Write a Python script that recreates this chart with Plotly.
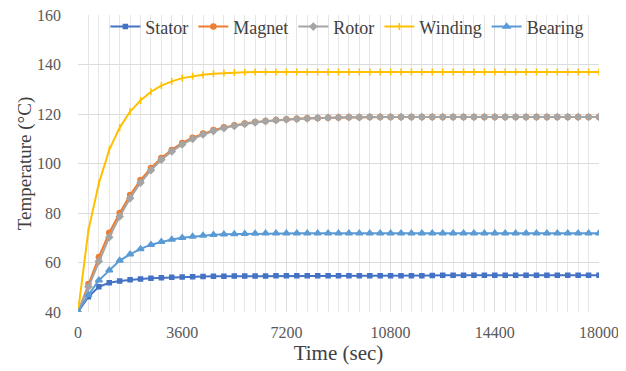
import plotly.graph_objects as go

time_s = list(range(0, 18001, 360))

stator = [40, 46.2, 50.2, 51.8, 52.5, 53.0, 53.3, 53.6, 53.8, 54.0, 54.1, 54.2, 54.3, 54.4, 54.4,
          54.5, 54.5, 54.5, 54.5, 54.6, 54.6, 54.6, 54.6, 54.6, 54.6, 54.6, 54.6, 54.6, 54.6, 54.6,
          54.6, 54.6, 54.6, 54.6, 54.7, 54.8, 54.8, 54.8, 54.8, 54.8, 54.8, 54.8, 54.8, 54.8, 54.8,
          54.8, 54.8, 54.8, 54.8, 54.8, 54.8]
magnet = [40, 51.3, 62.2, 72.0, 80.0, 87.3, 93.3, 98.2, 102.2, 105.5, 108.3, 110.4, 112.1, 113.5, 114.6,
          115.5, 116.2, 116.8, 117.2, 117.6, 117.9, 118.1, 118.3, 118.4, 118.5, 118.6, 118.7, 118.7, 118.8, 118.8,
          118.8, 118.8, 118.8, 118.8, 118.8, 118.8, 118.8, 118.8, 118.8, 118.8, 118.8, 118.8, 118.8, 118.8, 118.8,
          118.8, 118.8, 118.8, 118.8, 118.8, 118.8]
rotor = [40, 50.2, 60.5, 70.2, 78.6, 86.0, 92.2, 97.3, 101.5, 104.9, 107.7, 109.9, 111.7, 113.1, 114.3,
         115.2, 116.0, 116.6, 117.1, 117.5, 117.8, 118.0, 118.2, 118.4, 118.5, 118.6, 118.7, 118.7, 118.8, 118.8,
         118.8, 118.8, 118.8, 118.8, 118.8, 118.8, 118.8, 118.8, 118.8, 118.8, 118.8, 118.8, 118.8, 118.8, 118.8,
         118.8, 118.8, 118.8, 118.8, 118.8, 118.8]
winding = [40, 73.0, 92.0, 105.5, 114.5, 121.0, 125.5, 129.0, 131.5, 133.2, 134.5, 135.3, 135.9, 136.3, 136.6,
           136.8, 136.9, 137.0, 137.0, 137.0, 137.0, 137.0, 137.0, 137.0, 137.0, 137.0, 137.0, 137.0, 137.0, 137.0,
           137.0, 137.0, 137.0, 137.0, 137.0, 137.0, 137.0, 137.0, 137.0, 137.0, 137.0, 137.0, 137.0, 137.0, 137.0,
           137.0, 137.0, 137.0, 137.0, 137.0, 137.0]
bearing = [40, 47.0, 52.8, 56.9, 60.8, 63.3, 65.5, 67.2, 68.4, 69.3, 70.0, 70.5, 70.9, 71.2, 71.4,
           71.5, 71.6, 71.7, 71.8, 71.8, 71.8, 71.8, 71.8, 71.8, 71.8, 71.8, 71.8, 71.8, 71.8, 71.8,
           71.8, 71.8, 71.8, 71.8, 71.8, 71.8, 71.8, 71.8, 71.8, 71.8, 71.8, 71.8, 71.8, 71.8, 71.8,
           71.8, 71.8, 71.8, 71.8, 71.8, 71.8]

series_names = ["Stator", "Magnet", "Rotor", "Winding", "Bearing"]
x_ticks = [0, 3600, 7200, 10800, 14400, 18000]
y_ticks = [40, 60, 80, 100, 120, 140, 160]

series = [
    ("Stator", stator, "#4472C4", "square", 4),
    ("Magnet", magnet, "#ED7D31", "circle", 5),
    ("Rotor", rotor, "#A5A5A5", "diamond", 5),
    ("Winding", winding, "#FFC000", "line-ns", 5),
    ("Bearing", bearing, "#5B9BD5", "triangle-up", 6),
]

FF = "Liberation Serif"

fig = go.Figure()
for name, vals, color, sym, size in series:
    fig.add_trace(go.Scatter(
        x=time_s, y=vals, name=name, mode="lines+markers",
        line=dict(color=color, width=2),
        marker=dict(symbol=sym, size=size, color=color,
                    line=dict(color=color, width=1.5)),
    ))

# page body has an 8px margin, so the figure is sized/placed to compensate
fig.update_layout(
    width=618, height=363,
    margin=dict(l=70, r=27, t=7, b=59, autoexpand=False),
    paper_bgcolor="white", plot_bgcolor="white",
    font=dict(family=FF, color="#595959", size=16),
    legend=dict(orientation="h", x=0.517, xanchor="center", y=0.96, yanchor="middle",
                font=dict(family=FF, size=18, color="#404040"), bgcolor="rgba(255,255,255,0)",
                itemwidth=30, tracegroupgap=0),
    showlegend=True,
)
fig.update_xaxes(
    range=[0, 18000], tickvals=x_ticks, ticktext=[str(v) for v in x_ticks],
    showgrid=True, gridcolor="#DCDCDC", gridwidth=1,
    minor=dict(dtick=360, tick0=0, showgrid=True, gridcolor="#E6E6E6", gridwidth=1),
    zeroline=False, showline=False, ticks="", automargin=False,
    ticklabelstandoff=9, ticklabeloverflow="allow",
    tickfont=dict(family=FF, size=16, color="#595959"),
    title=dict(text="Time (sec)", font=dict(family=FF, size=21, color="#404040"), standoff=2),
)
fig.update_yaxes(
    range=[40, 160], tickvals=y_ticks, ticktext=[str(v) for v in y_ticks],
    showgrid=True, gridcolor="#DCDCDC", gridwidth=1,
    zeroline=False, showline=False, ticks="", automargin=False,
    ticklabelstandoff=16, ticklabeloverflow="allow",
    tickfont=dict(family=FF, size=16, color="#595959"),
    title=dict(text="Temperature (°C)", font=dict(family=FF, size=19, color="#404040"), standoff=0),
)

fig.write_html("out.html")
